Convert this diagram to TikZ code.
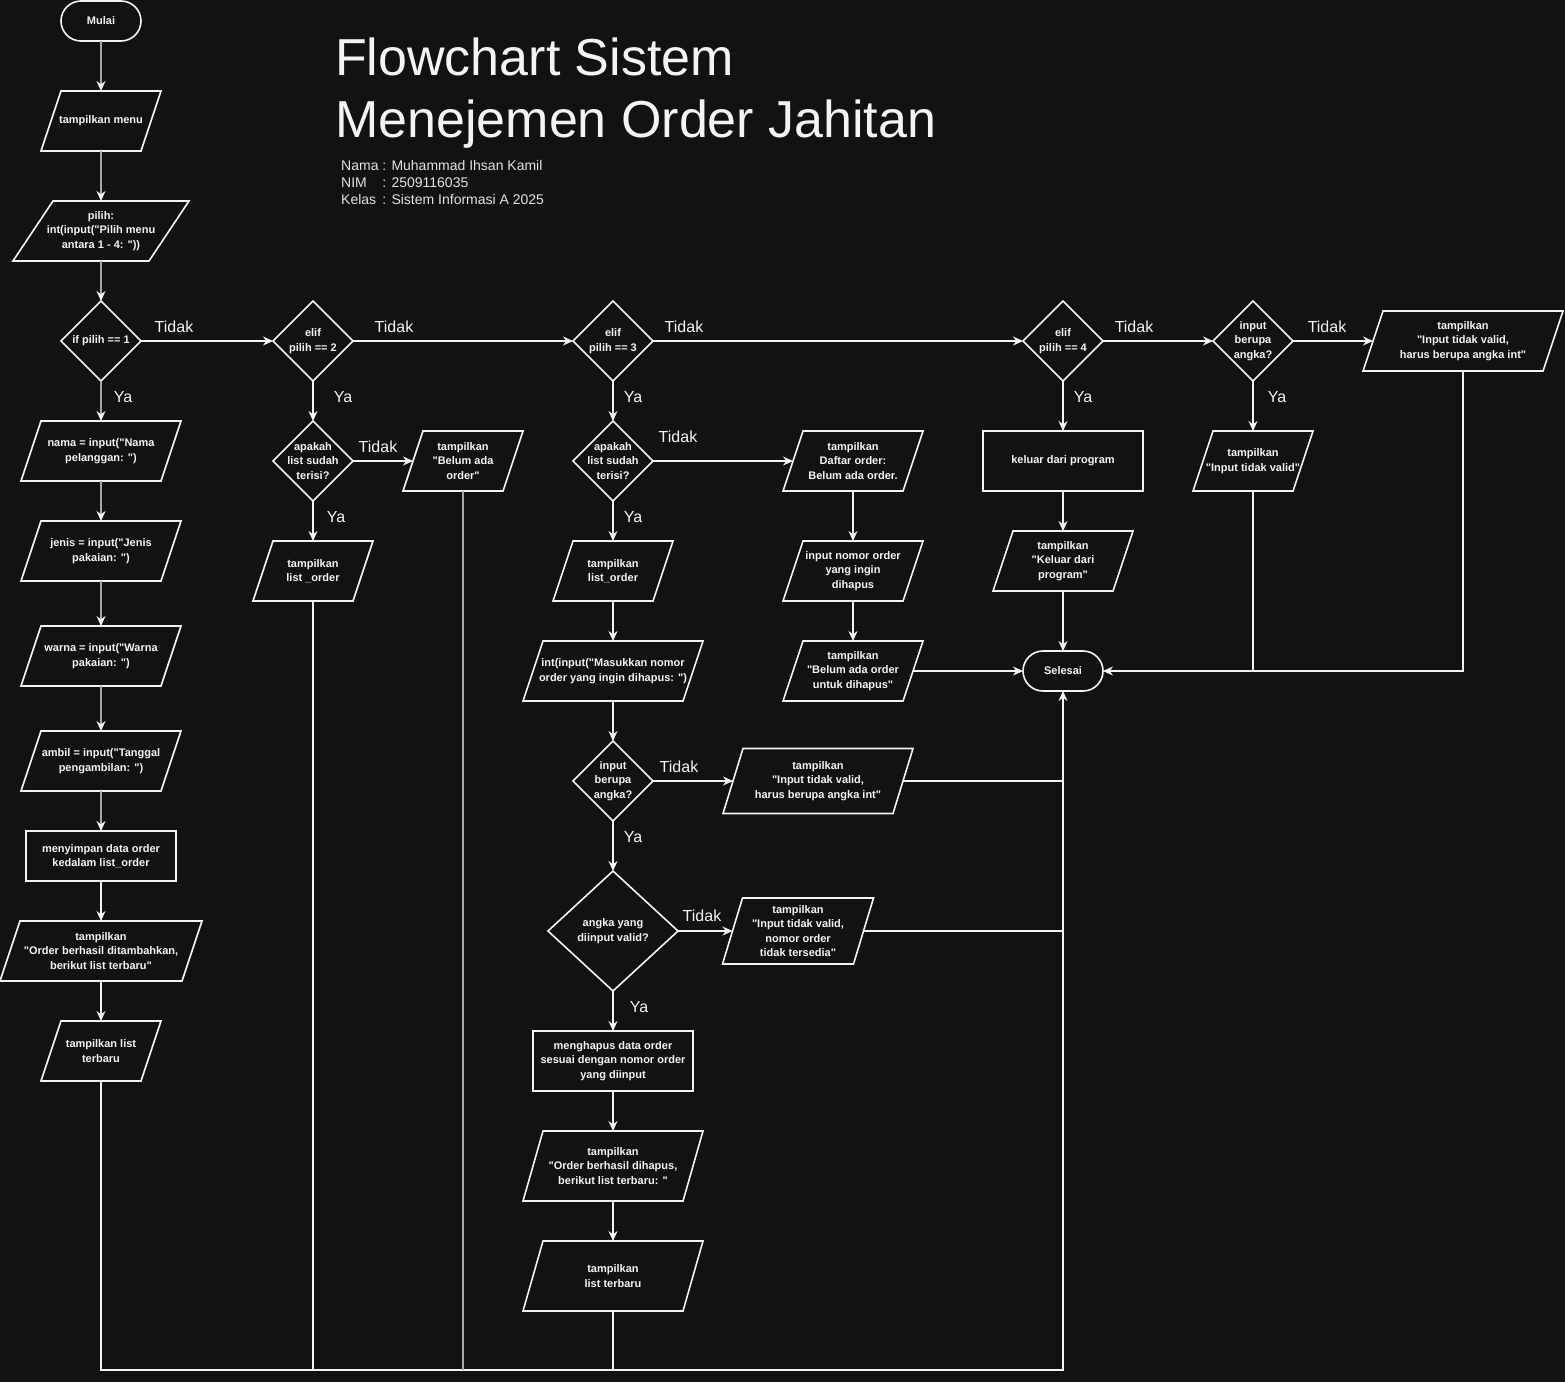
\documentclass[tikz,border=0pt]{standalone}
\usepackage{fontspec}
\setmainfont{Liberation Sans}[Ligatures=TeXOff]
\usetikzlibrary{arrows.meta}
\definecolor{bg}{HTML}{121212}
\definecolor{fg}{HTML}{F4F4F4}
\definecolor{dim}{HTML}{A8A8A8}
% parallelogram: name, cx, cy, full width, height, slant, text
\newcommand\para[7]{%
  \node[paranode, minimum width=#4pt-#6pt, minimum height=#5pt] (#1) at (#2,#3) {#7};
  \draw[shapeline] ([xshift=#6pt/2]#1.north west) -- ([xshift=#6pt/2]#1.north east)
    -- ([xshift=-#6pt/2]#1.south east) -- ([xshift=-#6pt/2]#1.south west) -- cycle;}
% diamond: name, cx, cy, width, height, text
\newcommand\dia[6]{%
  \node[dianode, minimum width=#4pt, minimum height=#5pt] (#1) at (#2,#3) {#6};
  \draw[shapeline] (#1.north) -- (#1.east) -- (#1.south) -- (#1.west) -- cycle;}
\begin{document}
\begin{tikzpicture}[x=1pt,y=-1pt,
  txt/.style={text=fg, font=\bfseries\fontsize{11}{14.5}\selectfont, align=center, inner sep=0pt, outer sep=0pt},
  paranode/.style={txt, rectangle},
  dianode/.style={txt, rectangle},
  shapeline/.style={draw=fg, line width=1.6pt, line join=miter},
  term/.style={txt, draw=fg, line width=1.6pt, rounded corners=20pt, minimum width=80pt, minimum height=40pt},
  proc/.style={txt, draw=fg, line width=1.6pt},
  arr/.style={draw=fg, line width=1.2pt, -{Stealth[length=10pt,width=9pt]}},
  arrg/.style={draw=dim, line width=1.5pt, -{Stealth[length=10pt,width=9pt,color=fg]}},
  plain/.style={draw=fg, line width=1.2pt},
  plaing/.style={draw=dim, line width=1.2pt},
  lab/.style={text=fg, font=\fontsize{16}{18}\selectfont, inner sep=0pt},
  ttl/.style={text=fg, anchor=base west, inner sep=0pt, font=\fontsize{52}{62}\selectfont},
]
\fill[bg] (0,0) rectangle (1565,1382);
\useasboundingbox (0,0) rectangle (1565,1382);

% title
\node[ttl] (title1) at (335,75) {Flowchart Sistem};
\node[ttl] (title2) at (335,137) {Menejemen Order Jahitan};
\node[anchor=base west, inner sep=0pt, text=fg!92!bg, font=\fontsize{14}{17}\selectfont] (info) at (341,170.5)
  {\begin{tabular}[t]{@{}l@{ }l@{}}Nama & : Muhammad Ihsan Kamil\\ NIM & : 2509116035\\ Kelas & : Sistem Informasi A 2025\end{tabular}};

% column A
\node[term] (mulai) at (101,21) {Mulai};
\para{menu}{101}{121}{120}{60}{20}{tampilkan menu}
\para{pilih}{101}{231}{176}{60}{40}{pilih:\\int(input("Pilih menu\\antara 1 - 4: "))}
\dia{d1}{101}{341}{80}{80}{if pilih == 1}
\para{nama}{101}{451}{160}{60}{20}{nama = input("Nama\\pelanggan: ")}
\para{jenis}{101}{551}{160}{60}{20}{jenis = input("Jenis\\pakaian: ")}
\para{warna}{101}{656}{160}{60}{20}{warna = input("Warna\\pakaian: ")}
\para{ambil}{101}{761}{160}{60}{20}{ambil = input("Tanggal\\pengambilan: ")}
\node[proc, minimum width=150pt, minimum height=50pt] (simpan) at (101,856) {menyimpan data order\\kedalam list\_order};
\para{tambah}{101}{951}{202}{60}{20}{tampilkan\\"Order berhasil ditambahkan,\\berikut list terbaru"}
\para{lstA}{101}{1051}{120}{60}{20}{tampilkan list\\terbaru}

% column B
\dia{d2}{313}{341}{80}{80}{elif\\pilih == 2}
\dia{d2b}{313}{461}{80}{80}{apakah\\list sudah\\terisi?}
\para{lstB}{313}{571}{120}{60}{20}{tampilkan\\list \_order}
\para{bao}{463}{461}{120}{60}{20}{tampilkan\\"Belum ada\\order"}

% column C
\dia{d3}{613}{341}{80}{80}{elif\\pilih == 3}
\dia{d3b}{613}{461}{80}{80}{apakah\\list sudah\\terisi?}
\para{lstC}{613}{571}{120}{60}{20}{tampilkan\\list\_order}
\para{inp}{613}{671}{180}{60}{20}{int(input("Masukkan nomor\\order yang ingin dihapus: ")}
\dia{d3c}{613}{781}{80}{80}{input\\berupa\\angka?}
\dia{d3d}{613}{931}{130}{120}{angka yang\\diinput valid?}
\node[proc, minimum width=160pt, minimum height=60pt] (hapus) at (613,1061) {menghapus data order\\sesuai dengan nomor order\\yang diinput};
\para{dihapus}{613}{1166}{180}{70}{20}{tampilkan\\"Order berhasil dihapus,\\berikut list terbaru: "}
\para{lstC2}{613}{1276}{180}{70}{20}{tampilkan\\list terbaru}

% column D
\para{daftar}{853}{461}{140}{60}{20}{tampilkan\\Daftar order:\\Belum ada order.}
\para{nomor}{853}{571}{140}{60}{20}{input nomor order\\yang ingin\\dihapus}
\para{bado}{853}{671}{140}{60}{20}{tampilkan\\"Belum ada order\\untuk dihapus"}
\para{invC}{818}{781}{190}{65}{20}{tampilkan\\"Input tidak valid,\\harus berupa angka int"}
\para{tsd}{798}{931}{151}{66}{20}{tampilkan\\"Input tidak valid,\\nomor order\\tidak tersedia"}

% column E
\dia{d4}{1063}{341}{80}{80}{elif\\pilih == 4}
\node[proc, minimum width=160pt, minimum height=60pt] (keluar) at (1063,461) {keluar dari program};
\para{keluarT}{1063}{561}{140}{60}{20}{tampilkan\\"Keluar dari\\program"}
\node[term] (selesai) at (1063,671) {Selesai};

% column F
\dia{d5}{1253}{341}{80}{80}{input\\berupa\\angka?}
\para{itv}{1253}{461}{120}{60}{20}{tampilkan\\"Input tidak valid"}
\para{harus}{1463}{341}{200}{60}{20}{tampilkan\\"Input tidak valid,\\harus berupa angka int"}

% connectors column A
\draw[arrg] (mulai.south) -- (menu.north);
\draw[arrg] (menu.south) -- (pilih.north);
\draw[arrg] (pilih.south) -- (d1.north);
\draw[arrg] (d1.south) -- (nama.north);
\draw[arrg] (nama.south) -- (jenis.north);
\draw[arrg] (jenis.south) -- (warna.north);
\draw[arrg] (warna.south) -- (ambil.north);
\draw[arrg] (ambil.south) -- (simpan.north);
\draw[arr] (simpan.south) -- (tambah.north);
\draw[arr] (tambah.south) -- (lstA.north);

% main decision chain
\draw[arr] (d1.east) -- (d2.west);
\draw[arr] (d2.east) -- (d3.west);
\draw[arr] (d3.east) -- (d4.west);
\draw[arr] (d4.east) -- (d5.west);
\draw[arr] (d5.east) -- (harus.west);

% column B
\draw[arr] (d2.south) -- (d2b.north);
\draw[arr] (d2b.south) -- (lstB.north);
\draw[arr] (d2b.east) -- (bao.west);

% column C
\draw[arr] (d3.south) -- (d3b.north);
\draw[arr] (d3b.south) -- (lstC.north);
\draw[arr] (d3b.east) -- (daftar.west);
\draw[arr] (lstC.south) -- (inp.north);
\draw[arr] (inp.south) -- (d3c.north);
\draw[arr] (d3c.east) -- (invC.west);
\draw[arr] (d3c.south) -- (d3d.north);
\draw[arr] (d3d.east) -- (tsd.west);
\draw[arr] (d3d.south) -- (hapus.north);
\draw[arr] (hapus.south) -- (dihapus.north);
\draw[arr] (dihapus.south) -- (lstC2.north);

% column D
\draw[arr] (daftar.south) -- (nomor.north);
\draw[arr] (nomor.south) -- (bado.north);
\draw[arr] (bado.east) -- (selesai.west);
\draw[plain] (invC.east) -- (invC.east -| selesai.south);
\draw[plain] (tsd.east) -- (tsd.east -| selesai.south);

% column E / F
\draw[arr] (d4.south) -- (keluar.north);
\draw[arr] (keluar.south) -- (keluarT.north);
\draw[arr] (keluarT.south) -- (selesai.north);
\draw[arr] (d5.south) -- (itv.north);
\draw[plain] (itv.south) -- (itv.south |- selesai.east);
\draw[arr] (harus.south) |- (selesai.east);

% bottom bus
\coordinate (bus) at (1063,1370);
\draw[arr] (lstA.south) |- (bus) -- (selesai.south);
\draw[plain] (lstB.south) -- (lstB.south |- bus);
\draw[plaing] (bao.south) -- (bao.south |- bus);
\draw[plain] (lstC2.south) -- (lstC2.south |- bus);

% labels
\node[lab] (l1) at (174,327) {Tidak};
\node[lab] (l2) at (123,397) {Ya};
\node[lab] (l3) at (394,327) {Tidak};
\node[lab] (l4) at (343,397) {Ya};
\node[lab] (l5) at (378,447) {Tidak};
\node[lab] (l6) at (336,517) {Ya};
\node[lab] (l7) at (684,327) {Tidak};
\node[lab] (l8) at (633,397) {Ya};
\node[lab] (l9) at (678,437) {Tidak};
\node[lab] (l10) at (633,517) {Ya};
\node[lab] (l11) at (679,767) {Tidak};
\node[lab] (l12) at (633,837) {Ya};
\node[lab] (l13) at (702,916) {Tidak};
\node[lab] (l14) at (639,1007) {Ya};
\node[lab] (l15) at (1134,327) {Tidak};
\node[lab] (l16) at (1083,397) {Ya};
\node[lab] (l17) at (1327,327) {Tidak};
\node[lab] (l18) at (1277,397) {Ya};
\end{tikzpicture}
\end{document}
